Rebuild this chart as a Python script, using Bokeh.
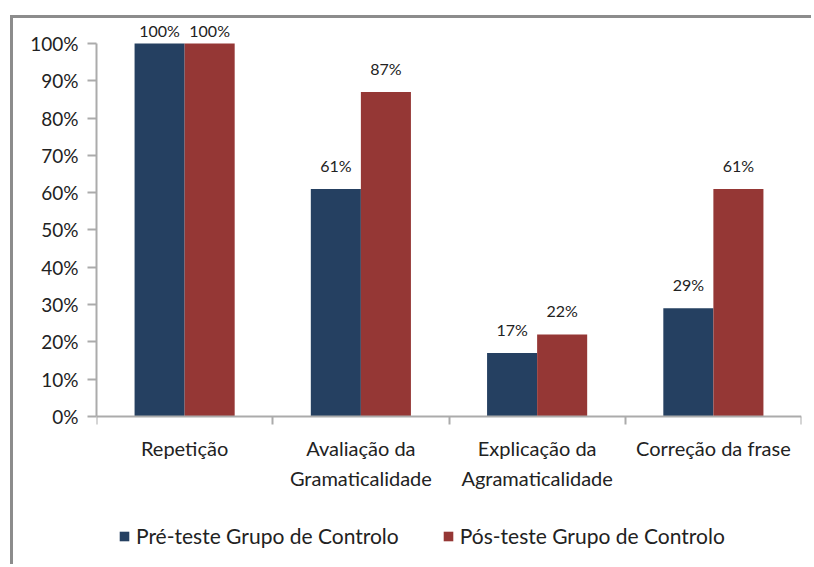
import numpy as np
from bokeh.plotting import figure
from bokeh.models import (ColumnDataSource, FixedTicker, NumeralTickFormatter,
                          LabelSet, Range1d, Legend)
from bokeh.core.properties import value
from bokeh.transform import dodge
from bokeh.embed import file_html
from bokeh.resources import INLINE

categories = ["Repetição", "Avaliação da\nGramaticalidade",
              "Explicação da\nAgramaticalidade", "Correção da frase"]
pre_teste = [1.00, 0.61, 0.17, 0.29]
pos_teste = [1.00, 0.87, 0.22, 0.61]
series_names = ["Pré-teste Grupo de Controlo", "Pós-teste Grupo de Controlo"]
y_ticks = [i / 10 for i in range(11)]

BLUE = "#254061"
RED = "#953735"
FONT = "Lato"
TXT = "#222222"
AX = "#ababab"


def lift(v):
    # labels sit ~14px above the bar, less where they would hit the top edge
    return 3 if v >= 1 else 14


pos = [i + 0.5 for i in range(len(categories))]
src = ColumnDataSource(dict(
    pos=pos, pre=pre_teste, post=pos_teste,
    pre_lbl=[f"{round(v*100)}%" for v in pre_teste],
    post_lbl=[f"{round(v*100)}%" for v in pos_teste],
    pre_off=[lift(v) for v in pre_teste],
    post_off=[lift(v) for v in pos_teste],
))

W, H = 801, 549
# frame spans the full height; the category axis is pinned at y = 0
p = figure(width=W, height=H, output_backend="svg", toolbar_location=None,
           x_range=Range1d(0, len(categories)), y_range=Range1d(-0.405, 1.067),
           min_border_left=83, min_border_right=13, min_border_top=0,
           min_border_bottom=0)
p.styles = {"margin-left": "10px", "margin-top": "15px",
            "border-left": "3px solid #8c8c8c", "border-top": "3px solid #8c8c8c"}
p.outline_line_color = None
p.xgrid.grid_line_color = None
p.ygrid.grid_line_color = None
p.background_fill_color = "white"
p.border_fill_color = "white"

bw = 0.284
off = 0.142
r1 = p.vbar(x=dodge("pos", -off), top="pre", width=bw, source=src, fill_color=BLUE,
            line_color=None)
r2 = p.vbar(x=dodge("pos", off), top="post", width=bw, source=src, fill_color=RED,
            line_color=None)

for fld, lbl, yo, o in (("pre", "pre_lbl", "pre_off", -off),
                        ("post", "post_lbl", "post_off", off)):
    p.add_layout(LabelSet(x=dodge("pos", o), y=fld, text=lbl, source=src,
                          text_align="center", text_baseline="bottom", y_offset=yo,
                          text_font=value(FONT), text_font_size="16px", text_color=TXT))

# y axis
ya = p.yaxis[0]
ya.bounds = (0, 1)
ya.ticker = FixedTicker(ticks=y_ticks, minor_ticks=[])
ya.formatter = NumeralTickFormatter(format="0%")
ya.axis_line_color = AX
ya.axis_line_width = 2
ya.major_tick_line_color = AX
ya.major_tick_line_width = 2
ya.major_tick_out = 9
ya.major_tick_in = 0
ya.major_label_standoff = 9
ya.major_label_text_font = FONT
ya.major_label_text_font_size = "19px"
ya.major_label_text_color = TXT

# x axis: ticks at category boundaries, labels at centers
xa = p.xaxis[0]
xa.fixed_location = 0
xa.ticker = FixedTicker(ticks=pos, minor_ticks=list(range(len(categories) + 1)))
xa.major_label_overrides = {c: t for c, t in zip(pos, categories)}
xa.axis_line_color = AX
xa.axis_line_width = 2
xa.major_tick_line_color = None
xa.major_tick_out = 8
xa.major_tick_in = 0
xa.minor_tick_line_color = AX
xa.minor_tick_line_width = 2
xa.minor_tick_out = 8
xa.minor_tick_in = 0
xa.major_label_standoff = 12
xa.major_label_text_font = FONT
xa.major_label_text_font_size = "20px"
xa.major_label_text_color = TXT
xa.major_label_text_line_height = 1.25

lg = Legend(items=[(series_names[0], [r1]), (series_names[1], [r2])],
            orientation="horizontal", location=(22, 19))
lg.border_line_color = None
lg.background_fill_alpha = 0
lg.glyph_width = 12
lg.glyph_height = 12
lg.label_standoff = 6
lg.spacing = 43
lg.padding = 0
lg.margin = 0
lg.label_text_font = FONT
lg.label_text_font_size = "21px"
lg.label_text_color = TXT
p.add_layout(lg, "center")

open("out.html", "w").write(file_html(p, INLINE))
